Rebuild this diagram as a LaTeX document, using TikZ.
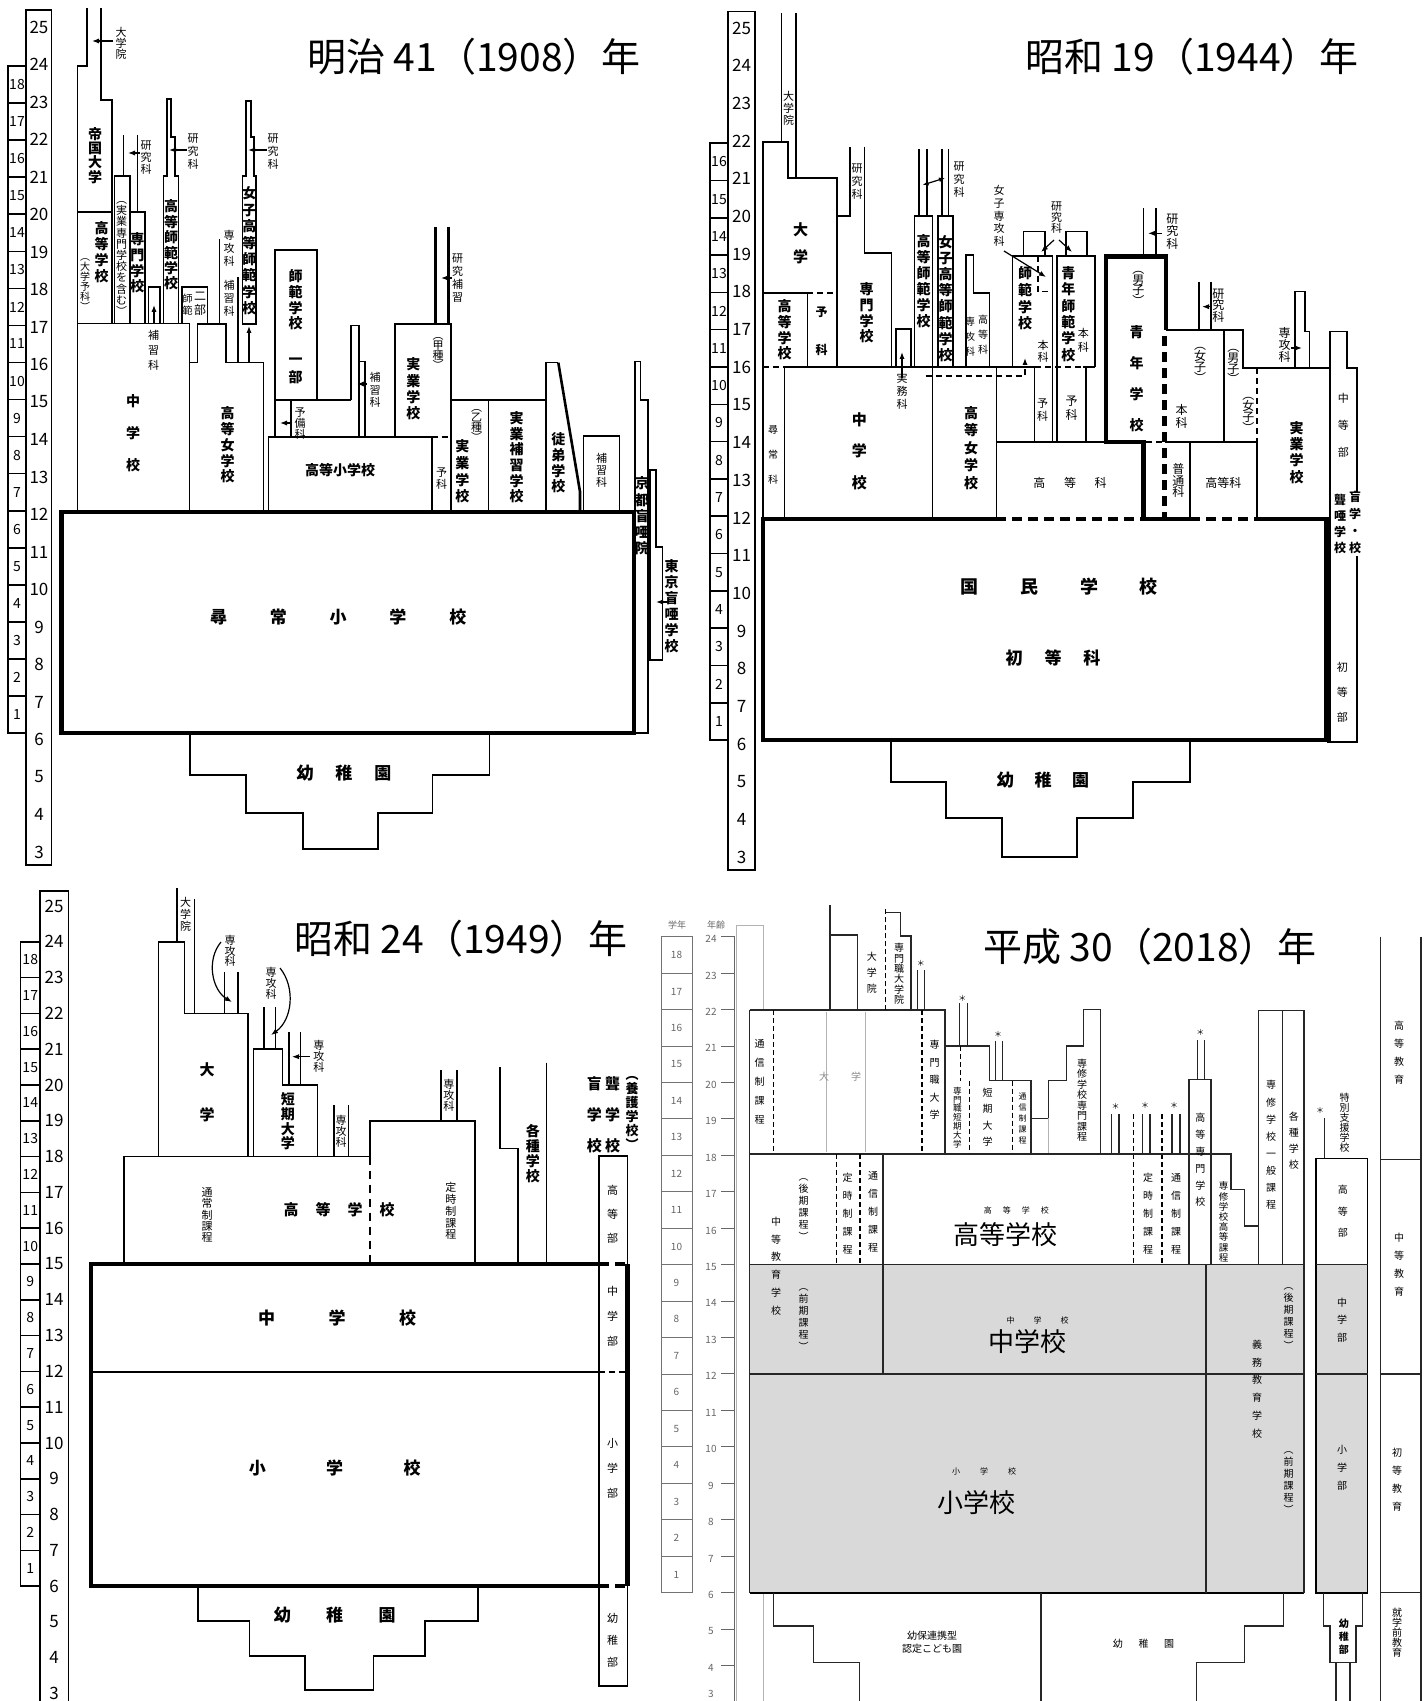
\documentclass[tikz,border=0pt]{standalone}
\usepackage{fontspec}
\setmainfont{Noto Sans CJK JP}
\usetikzlibrary{arrows.meta}
\newdimen\Hsw
\def\VtEnd{\VtEnd}
\def\VtLoop#1{\ifx#1\VtEnd\else\hbox to 1.1em{\hss#1\hss}\expandafter\VtLoop\fi}
\newcommand\Vt[2]{\vbox{\baselineskip=#1\relax\lineskiplimit=-\maxdimen\lineskip=0pt\VtLoop#2\VtEnd}}
\def\HsLoop#1{\ifx#1\VtEnd\else\hbox to\Hsw{\hss#1\hss}\expandafter\HsLoop\fi}
\newcommand\Hs[2]{\Hsw=#1\relax\hbox{\HsLoop#2\VtEnd}}
\newcommand\fsz[1]{\fontsize{#1}{#1}\selectfont}
\newcommand\bt{\bfseries\fsz{7pt}}
\begin{document}
\begin{tikzpicture}[x=0.5pt,y=-0.5pt,
 ln/.style={line width=0.8pt,line join=miter},
 thk/.style={line width=2.2pt,line join=miter},
 dsh/.style={line width=2.2pt,dash pattern=on 5pt off 3pt},
 dshn/.style={line width=0.8pt,dash pattern=on 3pt off 2pt},
 arr/.style={-{Latex[length=3.5pt,width=2.6pt]},line width=0.6pt},
 lb/.style={inner sep=0pt,outer sep=0pt},
 num/.style={inner sep=0pt,font=\fsz{8.5pt}},
 gnum/.style={inner sep=0pt,font=\fsz{7pt}},
 ttl/.style={inner sep=0pt,outer sep=0pt,font=\fsz{19.5pt}},
 l4/.style={line width=0.55pt,draw=black!85},
 d4/.style={line width=0.55pt,dash pattern=on 2.5pt off 1.5pt},
 g4/.style={inner sep=0pt,font=\fsz{5pt},text=black!60},
]
\useasboundingbox (0,0) rectangle (1428,1701);
\fill[white] (0,0) rectangle (1428,1701);

%================ PANEL 1 : Meiji 41 ================
\foreach \g in {1,...,18}{\draw[ln] (8,{733-(\g-1)*37.05}) rectangle (26,{733-\g*37.05});
 \node[gnum] (ga\g) at (17,{733-(\g-0.5)*37.05}) {\g};}
\draw[ln] (26,10) rectangle (51.5,865);
\foreach \a in {3,...,25}{\node[num] (aa\a) at (39,{27+(25-\a)*37.5}) {\a};}
\node[ttl] (title1) at (474,57) {明治 41（1908）年};

\draw[thk] (61.5,512) rectangle (634,733);
\draw[ln] (190,733) -- (190,775) -- (246,775) -- (246,812.7) -- (303,812.7) -- (303,849) -- (378,849) -- (378,812.7) -- (432.6,812.7) -- (432.6,775) -- (489.5,775) -- (489.5,733);
\draw[ln] (77.3,512) -- (77.3,66) -- (86.7,66) -- (86.7,8);
\draw[ln] (100.7,8) -- (100.7,100) -- (111.7,100) -- (111.7,323.5);
\draw[ln] (77.3,212) -- (111.7,212);
\draw[ln] (77.3,323.5) -- (189.3,323.5) -- (189.3,512);
\draw[ln] (189.3,362.7) -- (197.3,362.7) -- (197.3,324) -- (226,324) -- (226,362.7) -- (263.3,362.7) -- (263.3,512);
\draw[ln] (114.3,323.5) -- (114.3,176) -- (130,176) -- (130,323.5);
\draw[ln] (130,212) -- (145,212) -- (145,323.5);
\draw[ln] (123.3,135) -- (123.3,176);
\draw[ln] (137.3,135) -- (137.3,212);
\draw[ln] (148.3,323.5) -- (148.3,287) -- (160,287) -- (160,323.5);
\draw[arr] (154,323) -- (154,305);
\draw[ln] (163.3,323.5) -- (163.3,176) -- (166.7,176) -- (166.7,99) -- (171,99) -- (171,137) -- (175,137) -- (175,176) -- (178.3,176) -- (178.3,323.5);
\draw[ln] (181.7,324) -- (181.7,287.3) -- (207.3,287.3) -- (207.3,324);
\draw[ln] (219.3,239) -- (219.3,324);
\draw[ln] (237.7,277) -- (237.7,362.7);
\draw[ln] (242.3,324) -- (242.3,176) -- (245.7,176) -- (245.7,101) -- (250.7,101) -- (250.7,137) -- (254,137) -- (254,176) -- (256,176) -- (256,324) -- cycle;
\draw[arr] (249,362.7) -- (249,326);
\draw[ln] (275,250) rectangle (316.7,400);
\draw[ln] (275,400) -- (350.7,400);
\draw[ln] (275,400) -- (275,436.7);
\draw[ln] (291,400) -- (291,436.7);
\draw[ln] (350.7,400) -- (350.7,325.7) -- (359,325.7) -- (359,436.7);
\draw[ln] (359,361.7) -- (365,361.7) -- (365,436.7);
\draw[ln] (268.3,512) -- (268.3,436.7) -- (431.7,436.7) -- (431.7,512);
\draw[dshn] (431.7,436.7) -- (451,436.7);
\draw[ln] (395,436.7) -- (395,324) -- (451,324) -- (451,512);
\draw[line width=1.3pt] (435.7,226.7) -- (435.7,324);
\draw[line width=1.3pt] (448.3,226.7) -- (448.3,324);
\draw[ln] (451,400) -- (546,400);
\draw[ln] (488.3,400) -- (488.3,512);
\draw[ln] (546,512) -- (546,362.7) -- (558.3,362.7);
\draw[line width=1.3pt] (558.3,362.7) -- (580,491.7) -- (580,512);
\draw[ln] (583.3,512) -- (583.3,436) -- (619.3,436) -- (619.3,512);
\draw[ln] (634,733) -- (648,733) -- (648,400) -- (640.5,400) -- (640.5,361.7) -- (635,361.7) -- (635,512);
\draw[ln] (650,660) -- (650,470) -- (656,470) -- (656,547) -- (662.6,547) -- (662.6,660) -- cycle;
\draw[arr] (113,41) -- (92,41);
\draw[arr] (140,153) -- (128,153);
\draw[arr] (186.7,150) -- (169,150);
\draw[arr] (266.7,150) -- (248,150);
\draw[arr] (451.7,278) -- (441,278);
\draw[arr] (291,423) -- (280,423);
\draw[arr] (367,384) -- (357,384);
\draw[arr] (669,602) -- (656,602);

\node[lb] (p1a) at (95,155.5) {\bt\Vt{7.1pt}{帝国大学}};
\node[lb] (p1b) at (101.7,252.5) {\bt\Vt{8pt}{高等学校}};
\node[lb] (p1c) at (85,285) {\fsz{5pt}\Vt{5pt}{︵大学予科︶}};
\node[lb] (p1d) at (121.7,258.5) {\fsz{5.5pt}\Vt{5.6pt}{︵実業専門学校を含む︶}};
\node[lb] (p1e) at (137.3,263) {\bt\Vt{7.8pt}{専門学校}};
\node[lb] (p1f) at (146,157.5) {\fsz{5.5pt}\Vt{6pt}{研究科}};
\node[lb] (p1g) at (121,43.5) {\fsz{5.5pt}\Vt{5.5pt}{大学院}};
\node[lb] (p1h) at (171,245) {\bt\Vt{7.7pt}{高等師範学校}};
\node[lb] (p1i) at (193,151.5) {\fsz{5.5pt}\Vt{6.5pt}{研究科}};
\node[lb] (p1j) at (187.7,305) {\fsz{5pt}\Vt{6pt}{師範}};
\node[lb] (p1k) at (200,303.5) {\fsz{6pt}\Vt{7pt}{二部}};
\node[lb] (p1l) at (229,248.5) {\fsz{5.5pt}\Vt{6.5pt}{専攻科}};
\node[lb] (p1m) at (229,298.5) {\fsz{5.5pt}\Vt{6.5pt}{補習科}};
\node[lb] (p1n) at (249.3,251) {\bt\Vt{8.2pt}{女子高等師範学校}};
\node[lb] (p1o) at (273,151.5) {\fsz{5.5pt}\Vt{6.5pt}{研究科}};
\node[lb] (p1p) at (153.5,350) {\fsz{5.5pt}\Vt{7.5pt}{補習科}};
\node[lb] (p1q) at (133,433) {\bt\Vt{16pt}{中学校}};
\node[lb] (p1r) at (227.7,445) {\bt\Vt{7.9pt}{高等女学校}};
\node[lb] (p1s) at (295.7,300) {\bt\Vt{7.8pt}{師範学校}};
\node[lb] (p1t) at (295.7,371) {\bt\Vt{9pt}{一部}};
\node[lb] (p1u) at (300,423.5) {\fsz{5.5pt}\Vt{5.5pt}{予備科}};
\node[lb] (p1v) at (375,390) {\fsz{5.5pt}\Vt{6.25pt}{補習科}};
\node[lb] (p1w) at (340,470) {\bfseries\fsz{7pt}高等小学校};
\node[lb] (p1x) at (457.7,278) {\fsz{5.5pt}\Vt{6.5pt}{研究補習}};
\node[lb] (p1y) at (438,353.5) {\fsz{5.5pt}\Vt{5pt}{︵甲種︶}};
\node[lb] (p1z) at (413.3,389) {\bt\Vt{8.2pt}{実業学校}};
\node[lb] (p1aa) at (441.7,478.5) {\fsz{5.5pt}\Vt{6pt}{予科}};
\node[lb] (p1ab) at (476.7,425) {\fsz{5.5pt}\Vt{5pt}{︵乙種︶}};
\node[lb] (p1ac) at (462.3,471.5) {\bt\Vt{8.3pt}{実業学校}};
\node[lb] (p1ad) at (516.7,457.5) {\bt\Vt{7.8pt}{実業補習学校}};
\node[lb] (p1ae) at (558.3,463) {\bt\Vt{7.8pt}{徒弟学校}};
\node[lb] (p1af) at (601.7,470.5) {\fsz{5.5pt}\Vt{6pt}{補習科}};
\node[lb] (p1ag) at (642,516) {\bt\Vt{8.1pt}{京都盲唖院}};
\node[lb] (p1ah) at (671.7,606.5) {\bt\Vt{8pt}{東京盲唖学校}};
\node[lb] (p1ai) at (338.2,617) {\bfseries\fsz{8.5pt}\Hs{29.9pt}{尋常小学校}};
\node[lb] (p1aj) at (344,773) {\bfseries\fsz{8.5pt}\Hs{19.4pt}{幼稚園}};

%================ PANEL 2 : Showa 19 ================
\foreach \g in {1,...,16}{\draw[ln] (710,{740-(\g-1)*37.3}) rectangle (728,{740-\g*37.3});
 \node[gnum] (gb\g) at (719,{740-(\g-0.5)*37.3}) {\g};}
\draw[ln] (728,11.7) rectangle (755,870);
\foreach \a in {3,...,25}{\node[num] (ab\a) at (741.5,{28+(25-\a)*37.7}) {\a};}
\node[ttl] (title2) at (1192,57) {昭和 19（1944）年};

\draw[thk] (996,519) -- (762.7,519) -- (762.7,740) -- (1326.5,740) -- (1326.5,519) -- (1256.7,519);
\draw[dsh] (996,519) -- (1143.3,519);
\draw[thk] (1143.3,519) -- (1190,519);
\draw[dsh] (1190,519) -- (1256.7,519);
\draw[ln] (890.7,740) -- (890.7,782) -- (946,782) -- (946,818) -- (1002,818) -- (1002,857) -- (1077,857) -- (1077,818) -- (1133,818) -- (1133,782) -- (1190,782) -- (1190,740);
\draw[ln] (762.7,519) -- (762.7,142) -- (788,142) -- (788,178.3) -- (837,178.3) -- (837,367);
\draw[ln] (781.4,142) -- (781.4,13);
\draw[ln] (796,178.3) -- (796,13);
\draw[ln] (762.7,293.3) -- (807.4,293.3);
\draw[dshn] (807.4,293.3) -- (837,293.3);
\draw[ln] (807.4,293.3) -- (807.4,367);
\draw[dshn] (762.7,367) -- (784.6,367);
\draw[ln] (784.6,367) -- (1035,367);
\draw[dshn] (1035,367) -- (1083,367);
\draw[ln] (1083,367) -- (1095,367);
\draw[ln] (784.6,367) -- (784.6,519);
\draw[ln] (932.6,367) -- (932.6,519);
\draw[ln] (996.3,367) -- (996.3,519);
\draw[arr,dash pattern=on 3pt off 2pt] (925.7,376) -- (1025,376) -- (1025,358);
\draw[ln] (837,216) -- (849.7,216) -- (849.7,146.7);
\draw[ln] (864.3,146.7) -- (864.3,253.3) -- (891.6,253.3) -- (891.6,367);
\draw[ln] (896,367) -- (896,329.3) -- (911,329.3) -- (911,367);
\draw[arr] (902,378) -- (902,352);
\draw[ln] (914.4,367) -- (914.4,216) -- (932.6,216) -- (932.6,367);
\draw[ln] (919,149) -- (919,216);
\draw[ln] (926.7,149) -- (926.7,216);
\draw[ln] (938,367) -- (938,216) -- (953,216) -- (953,367);
\draw[ln] (941.7,149) -- (941.7,216);
\draw[ln] (948.5,149) -- (948.5,216);
\draw[{Latex[length=3pt,width=2.4pt]}-{Latex[length=3pt,width=2.4pt]},line width=0.6pt] (922.6,185) -- (945,178);
\draw[ln] (965.8,367) -- (965.8,255) -- (973.6,255) -- (973.6,293.3) -- (989.5,293.3) -- (989.5,367);
\draw[ln] (1012.3,367) -- (1012.3,256) -- (1052.3,256) -- (1052.3,441.7);
\draw[dshn] (1037.7,256) -- (1037.7,291.7) -- (1052.3,291.7);
\draw[ln] (1023.3,256) -- (1023.3,231.7) -- (1045,231.7) -- (1045,256);
\draw[ln] (1065.7,256) -- (1065.7,231.7) -- (1086.7,231.7) -- (1086.7,256);
\draw[arr] (1054,240) -- (1041,252);
\draw[arr] (1059,240) -- (1072,252);
\draw[arr] (1004,251) -- (1046,277);
\draw[ln] (1056.7,441.7) -- (1056.7,256) -- (1095,256) -- (1095,367);
\draw[ln] (1086,367) -- (1086,441.7);
\draw[ln] (1034.3,367) -- (1034.3,441.7);
\draw[ln] (996.3,441.7) -- (1106,441.7);
\draw[thk] (1143.3,519) -- (1143.3,441.7) -- (1106,441.7) -- (1106,256.7) -- (1165.7,256.7) -- (1165.7,330);
\draw[dsh] (1164.5,336) -- (1164.5,519);
\draw[ln] (1143.3,256.7) -- (1143.3,208.3);
\draw[ln] (1155.7,256.7) -- (1155.7,208.3);
\draw[arr] (1162,233.3) -- (1148,233.3);
\draw[dshn] (1146,441.7) -- (1163,441.7);
\draw[ln] (1165,441.7) -- (1256.7,441.7);
\draw[ln] (1190,441.7) -- (1190,519);
\draw[ln] (1256.7,441.7) -- (1256.7,519);
\draw[ln] (1165.7,330) -- (1242.7,330) -- (1242.7,368.3) -- (1330,368.3);
\draw[ln] (1224,330) -- (1224,441.7);
\draw[ln] (1199,330) -- (1199,281.7);
\draw[ln] (1211,330) -- (1211,281.7);
\draw[arr] (1212,306.7) -- (1202,306.7);
\draw[dshn] (1256.7,368.3) -- (1256.7,441.7);
\draw[ln] (1295,368.3) -- (1295,291.7) -- (1305,291.7) -- (1305,331.7) -- (1309.3,331.7) -- (1309.3,368.3);
\draw[arr] (1291,348) -- (1302,348);
\draw[ln] (1330,741.7) -- (1330,331.7) -- (1346.7,331.7) -- (1346.7,368.3) -- (1357,368.3) -- (1357,492);
\draw[ln] (1357,556) -- (1357,741.7) -- (1326.5,741.7);

\node[lb] (p2a) at (1059,587) {\bfseries\fsz{9pt}\Hs{30pt}{国民学校}};
\node[lb] (p2b) at (1053,658) {\bfseries\fsz{8.5pt}\Hs{19.4pt}{初等科}};
\node[lb] (p2c) at (1043,780) {\bfseries\fsz{8.5pt}\Hs{18.8pt}{幼稚園}};
\node[lb] (p2d) at (773,455) {\fsz{5pt}\Vt{12.5pt}{尋常科}};
\node[lb] (p2e) at (784.6,330) {\bt\Vt{7.8pt}{高等学校}};
\node[lb] (p2f) at (821.5,331) {\bfseries\fsz{6pt}\Vt{19pt}{予科}};
\node[lb] (p2g) at (800.5,243) {\bfseries\fsz{7.5pt}\Vt{13.5pt}{大学}};
\node[lb] (p2h) at (788.5,108.5) {\fsz{5.5pt}\Vt{6.1pt}{大学院}};
\node[lb] (p2i) at (866.6,313) {\bt\Vt{7.8pt}{専門学校}};
\node[lb] (p2j) at (857.2,181.5) {\fsz{5.5pt}\Vt{6.5pt}{研究科}};
\node[lb] (p2k) at (902,391.5) {\fsz{5.5pt}\Vt{6.5pt}{実務科}};
\node[lb] (p2l) at (923.5,281.5) {\bt\Vt{8pt}{高等師範学校}};
\node[lb] (p2m) at (945.5,298.5) {\bt\Vt{8.1pt}{女子高等師範学校}};
\node[lb] (p2n) at (959,180) {\fsz{5.5pt}\Vt{6.5pt}{研究科}};
\node[lb] (p2o) at (970,336.7) {\fsz{5pt}\Vt{7.5pt}{専攻科}};
\node[lb] (p2p) at (983,335) {\fsz{5pt}\Vt{7.5pt}{高等科}};
\node[lb] (p2q) at (859.3,451) {\bfseries\fsz{7.5pt}\Vt{15.75pt}{中学校}};
\node[lb] (p2r) at (971,448) {\bt\Vt{8.75pt}{高等女学校}};
\node[lb] (p2s) at (999,216) {\fsz{5.5pt}\Vt{6.4pt}{女子専攻科}};
\node[lb] (p2t) at (1056.7,218) {\fsz{5.5pt}\Vt{5.5pt}{研究科}};
\node[lb] (p2u) at (1025,298.5) {\bt\Vt{8.3pt}{師範学校}};
\node[lb] (p2v) at (1043,351.5) {\fsz{5.5pt}\Vt{6pt}{本科}};
\node[lb] (p2w) at (1068.3,314) {\bt\Vt{8.2pt}{青年師範学校}};
\node[lb] (p2x) at (1083.3,340) {\fsz{5.5pt}\Vt{7pt}{本科}};
\node[lb] (p2y) at (1042.7,410) {\fsz{5.5pt}\Vt{6.5pt}{予科}};
\node[lb] (p2z) at (1071.7,408) {\fsz{6pt}\Vt{7pt}{予科}};
\node[lb] (p2aa) at (1070,483) {\fsz{6pt}\Hs{15.35pt}{高等科}};
\node[lb] (p2ab) at (1172.3,231.5) {\fsz{6pt}\Vt{6.3pt}{研究科}};
\node[lb] (p2ac) at (1138.3,288.3) {\fsz{6pt}\Vt{5.4pt}{︵男子︶}};
\node[lb] (p2ad) at (1136.7,378.4) {\bt\Vt{15.5pt}{青年学校}};
\node[lb] (p2ae) at (1178.3,480.5) {\fsz{6pt}\Vt{5.8pt}{普通科}};
\node[lb] (p2af) at (1223.3,483.3) {\fsz{6pt}高等科};
\node[lb] (p2ag) at (1200,365) {\fsz{6pt}\Vt{5.4pt}{︵女子︶}};
\node[lb] (p2ah) at (1181.7,416.5) {\fsz{6pt}\Vt{6.5pt}{本科}};
\node[lb] (p2ai) at (1218.3,305.5) {\fsz{6pt}\Vt{5.8pt}{研究科}};
\node[lb] (p2aj) at (1233.3,366.5) {\fsz{6pt}\Vt{5.4pt}{︵男子︶}};
\node[lb] (p2ak) at (1248.3,415) {\fsz{6pt}\Vt{5.4pt}{︵女子︶}};
\node[lb] (p2al) at (1296.7,452.5) {\bt\Vt{8.2pt}{実業学校}};
\node[lb] (p2am) at (1284.5,345) {\fsz{6pt}\Vt{6.2pt}{専攻科}};
\node[lb] (p2an) at (1343.3,425) {\fsz{5.5pt}\Vt{13.5pt}{中等部}};
\node[lb] (p2ao) at (1355,522.5) {\bfseries\fsz{6pt}\Vt{8.5pt}{盲学・校}};
\node[lb] (p2ap) at (1340,524) {\bfseries\fsz{6pt}\Vt{8pt}{聾唖学校}};
\node[lb] (p2aq) at (1342.4,692) {\fsz{5.5pt}\Vt{12.5pt}{初等部}};

%================ PANEL 3 : Showa 24 ================
\foreach \g in {1,...,18}{\draw[ln] (20.5,{1586.2-(\g-1)*35.8}) rectangle (40,{1586.2-\g*35.8});
 \node[gnum] (gc\g) at (30.25,{1586.2-(\g-0.5)*35.8}) {\g};}
\draw[ln] (40,1701) -- (40,890.7) -- (68.3,890.7) -- (68.3,1701);
\foreach \a in {3,...,25}{\node[num] (ac\a) at (54,{906+(25-\a)*35.8}) {\a};}
\node[ttl] (title3) at (461,939) {昭和 24（1949）年};

\draw[thk] (598.8,1264) -- (91,1264) -- (91,1586.2) -- (598.8,1586.2);
\draw[dsh] (598.8,1264) -- (627.5,1264);
\draw[dsh] (598.8,1586.2) -- (627.5,1586.2);
\draw[thk] (627.5,1264) -- (627.5,1586.2);
\draw[line width=1.1pt] (91,1372) -- (598.8,1372);
\draw[dshn] (598.8,1372) -- (627.5,1372);
\draw[ln] (598.8,1156) -- (598.8,1686) -- (627.5,1686) -- (627.5,1156) -- cycle;
\draw[ln] (198,1586.2) -- (198,1620.7) -- (249.5,1620.7) -- (249.5,1656) -- (305,1656) -- (305,1690) -- (373.4,1690) -- (373.4,1656) -- (425,1656) -- (425,1620.7) -- (478,1620.7) -- (478,1586.2);
\draw[ln] (123.9,1264) -- (123.9,1156.6) -- (369.8,1156.6) -- (369.8,1120.8) -- (475,1120.8) -- (475,1264);
\draw[line width=1.1pt,dash pattern=on 4pt off 3pt] (369.8,1156.6) -- (369.8,1264);
\draw[ln] (158.5,1156.6) -- (158.5,941.8) -- (184.4,941.8) -- (184.4,1013.4) -- (248.2,1013.4) -- (248.2,1156.6);
\draw[ln] (176.7,941.8) -- (176.7,888.3);
\draw[ln] (194.4,1013.4) -- (194.4,899.3);
\draw[ln] (224.5,1013.4) -- (224.5,971.7);
\draw[ln] (237.7,1013.4) -- (237.7,971.7);
\draw[arr] (221,942) .. controls (206,960) and (212,990) .. (232,1002);
\draw[ln] (253.6,1156.6) -- (253.6,1049.2) -- (282.3,1049.2) -- (282.3,1085) -- (317.4,1085) -- (317.4,1156.6);
\draw[ln] (264,1049.2) -- (264,1006.7);
\draw[ln] (275.5,1049.2) -- (275.5,1006.7);
\draw[arr] (280,968) .. controls (296,988) and (292,1020) .. (271,1035);
\draw[ln] (289.2,1085) -- (289.2,1031.7);
\draw[ln] (300.5,1085) -- (300.5,1031.7);
\draw[arr] (309.7,1056.7) -- (292,1056.7);
\draw[ln] (333.8,1156.6) -- (333.8,1105);
\draw[ln] (348.4,1156.6) -- (348.4,1105);
\draw[ln] (440.8,1120.8) -- (440.8,1070);
\draw[ln] (456.8,1120.8) -- (456.8,1070);
\draw[ln] (500,1066.7) -- (500,1148.3) -- (518.2,1148.3) -- (518.2,1264);
\draw[ln] (546.4,1062.7) -- (546.4,1264);

\node[lb] (p3a) at (337,1318) {\bfseries\fsz{8.5pt}\Hs{35.25pt}{中学校}};
\node[lb] (p3b) at (334.7,1468) {\bfseries\fsz{8.5pt}\Hs{38.7pt}{小学校}};
\node[lb] (p3c) at (334.7,1615) {\bfseries\fsz{8.5pt}\Hs{26.2pt}{幼稚園}};
\node[lb] (p3d) at (339.2,1210) {\bfseries\fsz{7.5pt}\Hs{16pt}{高等学校}};
\node[lb] (p3e) at (207,1215) {\fsz{5.5pt}\Vt{5.6pt}{通常制課程}};
\node[lb] (p3f) at (450.8,1211) {\fsz{5.5pt}\Vt{5.9pt}{定時制課程}};
\node[lb] (p3g) at (207,1092.5) {\bfseries\fsz{7.5pt}\Vt{22.5pt}{大学}};
\node[lb] (p3h) at (185.5,914) {\fsz{5.5pt}\Vt{6pt}{大学院}};
\node[lb] (p3i) at (230,951) {\fsz{5.5pt}\Vt{5.2pt}{専攻科}};
\node[lb] (p3j) at (271,983.5) {\fsz{5.5pt}\Vt{5.5pt}{専攻科}};
\node[lb] (p3k) at (318.8,1056.5) {\fsz{5.5pt}\Vt{5.5pt}{専攻科}};
\node[lb] (p3l) at (287.8,1121.5) {\bt\Vt{7.3pt}{短期大学}};
\node[lb] (p3m) at (341,1131.5) {\fsz{5.5pt}\Vt{5.5pt}{専攻科}};
\node[lb] (p3n) at (448.8,1095) {\fsz{5.5pt}\Vt{5.5pt}{専攻科}};
\node[lb] (p3o) at (532.8,1154) {\bt\Vt{7.5pt}{各種学校}};
\node[lb] (p3p) at (594.3,1114.5) {\bfseries\fsz{7.5pt}\Vt{15.5pt}{盲学校}};
\node[lb] (p3q) at (612.5,1114.5) {\bfseries\fsz{7.5pt}\Vt{15.5pt}{聾学校}};
\node[lb] (p3r) at (632,1112.5) {\bfseries\fsz{6.5pt}\Vt{7pt}{︵養護学校︶}};
\node[lb] (p3s) at (612.5,1214.7) {\fsz{5.5pt}\Vt{12pt}{高等部}};
\node[lb] (p3t) at (612.5,1316.7) {\fsz{5.5pt}\Vt{12.5pt}{中学部}};
\node[lb] (p3u) at (612.5,1468) {\fsz{5.5pt}\Vt{12.5pt}{小学部}};
\node[lb] (p3v) at (612.5,1640) {\fsz{5.5pt}\Vt{11pt}{幼稚部}};

%================ PANEL 4 : Heisei 30 ================
\node[g4,font=\fsz{4.5pt}] (h4a) at (677,925) {学年};
\node[g4,font=\fsz{4.5pt}] (h4b) at (716,925) {年齢};
\foreach \g in {1,...,18}{\draw[black!55,line width=0.5pt] (661,{1592.7-(\g-1)*36.44}) rectangle (692,{1592.7-\g*36.44});
 \node[g4] (gd\g) at (676.5,{1592.7-(\g-0.5)*36.44}) {\g};}
\draw[black!60,line width=0.5pt] (734.5,936.7) -- (734.5,1701);
\foreach \a in {4,...,24}{\draw[black!60,line width=0.5pt] (721,{936.7+(24-\a)*36.44}) -- (734.5,{936.7+(24-\a)*36.44});
 \node[g4] (ad\a) at (711,{939+(24-\a)*36.44}) {\a};}
\node[g4] (ad3) at (711,1694) {3};
\draw[black!30,line width=0.5pt] (736,1701) -- (736,925) -- (763,925) -- (763,1010);
\draw[black!30,line width=0.5pt] (763,1593) -- (763,1701);
\node[ttl] (title4) at (1150,947) {平成 30（2018）年};

\fill[black!15] (749.6,1264.7) rectangle (1304,1592.7);
\fill[black!15] (1316,1264.7) rectangle (1367.6,1592.7);
\draw[l4] (749.6,1010) -- (749.6,1592.7);
\draw[l4] (749.6,1264.7) -- (1304,1264.7);
\draw[line width=1pt] (749.6,1592.7) -- (1304,1592.7);
\draw[l4] (1304,1264.7) -- (1304,1592.7);
\draw[l4] (749.6,1374) -- (1304,1374);
\draw[l4] (883,1154) -- (883,1374);
\draw[l4] (1206,1264.7) -- (1206,1592.7);
\draw[l4] (749.6,1010) -- (945,1010) -- (945,1154);
\draw[d4] (773.7,1010) -- (773.7,1154);
\draw[d4] (922,1010) -- (922,1154);
\draw[black!30,line width=0.5pt] (826.6,1012) -- (826.6,1152);
\draw[black!30,line width=0.5pt] (865.9,1012) -- (865.9,1152);
\draw[l4] (830,1010) -- (830,905);
\draw[l4] (830,935) -- (857.5,935) -- (857.5,1010);
\draw[d4] (885.5,1010) -- (885.5,907.3);
\draw[l4] (885.5,912.7) -- (900.2,912.7) -- (900.2,936) -- (911,936) -- (911,1010);
\draw[l4] (917.4,1010) -- (917.4,970);
\draw[l4] (924.7,1010) -- (924.7,970);
\draw[l4] (945.5,1154) -- (945.5,1046) -- (989.4,1046) -- (989.4,1080.7) -- (1031,1080.7) -- (1031,1154);
\draw[d4] (960.3,1046) -- (960.3,1080.7);
\draw[d4] (969.8,1080.7) -- (969.8,1154);
\draw[d4] (1012.8,1080.7) -- (1012.8,1154);
\draw[l4] (959.8,1046) -- (959.8,1003.3);
\draw[l4] (967.6,1046) -- (967.6,1003.3);
\draw[l4] (995.5,1080.7) -- (995.5,1041);
\draw[l4] (1002.8,1080.7) -- (1002.8,1041);
\draw[l4] (1031,1118.3) -- (1048.7,1118.3) -- (1048.7,1080.7) -- (1066.5,1080.7) -- (1066.5,1046) -- (1083.6,1046) -- (1083.6,1009.3) -- (1100.7,1009.3) -- (1100.7,1154);
\draw[black!30,line width=0.5pt] (1048.7,1118.3) -- (1048.7,1154);
\draw[l4] (1111.5,1154) -- (1111.5,1114);
\draw[l4] (1119,1154) -- (1119,1114);
\draw[l4] (1142.5,1154) -- (1142.5,1114);
\draw[l4] (1150,1154) -- (1150,1114);
\draw[l4] (1172,1154) -- (1172,1114);
\draw[l4] (1180,1154) -- (1180,1114);
\draw[d4] (1133.7,1114) -- (1133.7,1264.7);
\draw[d4] (1162,1114) -- (1162,1264.7);
\draw[l4] (749.6,1154) -- (1231,1154) -- (1231,1189.3) -- (1244.8,1189.3) -- (1244.8,1226) -- (1258.8,1226);
\draw[d4] (836.4,1154) -- (836.4,1264.7);
\draw[d4] (860,1154) -- (860,1264.7);
\draw[l4] (1189,1264.7) -- (1189,1079.3) -- (1211,1079.3) -- (1211,1264.7);
\draw[l4] (1197.6,1079.3) -- (1197.6,1040);
\draw[l4] (1204.9,1079.3) -- (1204.9,1040);
\draw[l4] (1258.8,1264.7) -- (1258.8,1010.7) -- (1304,1010.7) -- (1304,1264.7);
\draw[l4] (1282.4,1010.7) -- (1282.4,1264.7);
\draw[line width=0.8pt] (1316,1158.3) rectangle (1367.6,1592.7);
\draw[l4] (1316,1264.7) -- (1367.6,1264.7);
\draw[l4] (1316,1374) -- (1367.6,1374);
\draw[l4] (1324.5,1158.3) -- (1324.5,1118);
\draw[l4] (1323.5,1592.7) -- (1323.5,1626) -- (1330,1626) -- (1330,1662.7) -- (1356,1662.7) -- (1356,1626) -- (1362.4,1626) -- (1362.4,1592.7);
\draw[l4] (1336,1662.7) -- (1336,1701);
\draw[l4] (1350,1662.7) -- (1350,1701);
\draw[l4] (1380.6,936.7) -- (1380.6,1701);
\draw[l4] (1421,936.7) -- (1421,1701);
\draw[l4] (1380.6,1159.3) -- (1421,1159.3);
\draw[l4] (1380.6,1374) -- (1421,1374);
\draw[l4] (1380.6,1592.7) -- (1421,1592.7);
\draw[l4] (773.7,1592.7) -- (773.7,1626) -- (813.3,1626) -- (813.3,1662.7) -- (859.4,1662.7) -- (859.4,1701);
\draw[l4] (1283.5,1592.7) -- (1283.5,1626) -- (1244.8,1626) -- (1244.8,1662.7) -- (1196.7,1662.7) -- (1196.7,1701);
\draw[l4] (1041,1592.7) -- (1041,1701);

\foreach \x/\y/\n in {920.8/963/s1,962.4/998/s2,998.2/1034/s3,1115.7/1106.7/s4,1145/1105/s5,1174.2/1105/s6,1200.4/1032.7/s7,1320/1110.7/s8}{\node[lb,font=\fsz{4pt}] (\n) at (\x,\y) {＊};}
\node[lb] (p4a) at (1037.5,1320) {\fsz{4pt}\Hs{13.5pt}{中学校}};
\node[lb] (p4b) at (1027.6,1342) {\fsz{13pt}中学校};
\node[lb] (p4c) at (984,1471.7) {\fsz{4pt}\Hs{14pt}{小学校}};
\node[lb] (p4d) at (976,1503) {\fsz{13pt}小学校};
\node[lb] (p4e) at (1016.4,1210.7) {\fsz{4pt}\Hs{9.5pt}{高等学校}};
\node[lb] (p4f) at (1005.6,1235) {\fsz{13pt}高等学校};
\node[lb] (p4g) at (759.5,1081.5) {\fsz{5pt}\Vt{9.5pt}{通信制課程}};
\node[lb,text=black!45] (p4h) at (840,1076.7) {\fsz{5pt}\Hs{16pt}{大学}};
\node[lb] (p4i) at (934.5,1080) {\fsz{5pt}\Vt{8.75pt}{専門職大学}};
\node[lb] (p4j) at (871.8,972.5) {\fsz{5pt}\Vt{8pt}{大学院}};
\node[lb] (p4k) at (899,974) {\fsz{5pt}\Vt{5.2pt}{専門職大学院}};
\node[lb] (p4l) at (957.5,1117.5) {\fsz{4.3pt}\Vt{4.4pt}{専門職短期大学}};
\node[lb] (p4m) at (987.5,1117.3) {\fsz{5pt}\Vt{8.1pt}{短期大学}};
\node[lb] (p4n) at (1022.6,1119) {\fsz{4pt}\Vt{5.5pt}{通信制課程}};
\node[lb] (p4o) at (1082.2,1100) {\fsz{5pt}\Vt{5.25pt}{専修学校専門課程}};
\node[lb] (p4p) at (803.6,1210) {\fsz{5pt}\Vt{6pt}{︵後期課程︶}};
\node[lb] (p4q) at (847.7,1214) {\fsz{5pt}\Vt{9pt}{定時制課程}};
\node[lb] (p4r) at (873,1212) {\fsz{5pt}\Vt{9pt}{通信制課程}};
\node[lb] (p4s) at (776,1266) {\fsz{5pt}\Vt{8.9pt}{中等教育学校}};
\node[lb] (p4t) at (803.6,1320) {\fsz{5pt}\Vt{6pt}{︵前期課程︶}};
\node[lb] (p4u) at (1148,1214) {\fsz{5pt}\Vt{9pt}{定時制課程}};
\node[lb] (p4v) at (1176,1214) {\fsz{5pt}\Vt{9pt}{通信制課程}};
\node[lb] (p4w) at (1200.4,1160) {\fsz{5pt}\Vt{8.4pt}{高等専門学校}};
\node[lb] (p4x) at (1223.7,1222) {\fsz{4.75pt}\Vt{5.1pt}{専修学校高等課程}};
\node[lb] (p4y) at (1271,1145) {\fsz{5pt}\Vt{8.55pt}{専修学校一般課程}};
\node[lb] (p4z) at (1293.8,1141) {\fsz{5pt}\Vt{8pt}{各種学校}};
\node[lb] (p4aa) at (1288.5,1319) {\fsz{5pt}\Vt{6pt}{︵後期課程︶}};
\node[lb] (p4ab) at (1257,1389) {\fsz{5pt}\Vt{8.85pt}{義務教育学校}};
\node[lb] (p4ac) at (1288.5,1483) {\fsz{5pt}\Vt{6pt}{︵前期課程︶}};
\node[lb] (p4ad) at (1344.6,1123) {\fsz{5pt}\Vt{5pt}{特別支援学校}};
\node[lb] (p4ae) at (1342.8,1211.5) {\fsz{5pt}\Vt{10.75pt}{高等部}};
\node[lb] (p4af) at (1342,1320) {\fsz{5pt}\Vt{8.75pt}{中学部}};
\node[lb] (p4ag) at (1342,1468) {\fsz{5pt}\Vt{9pt}{小学部}};
\node[lb] (p4ah) at (1343.8,1636.5) {\bfseries\fsz{5pt}\Vt{6.5pt}{幼稚部}};
\node[lb] (p4ai) at (1399,1053) {\fsz{5pt}\Vt{9pt}{高等教育}};
\node[lb] (p4aj) at (1399,1265) {\fsz{5pt}\Vt{9pt}{中等教育}};
\node[lb] (p4ak) at (1397,1480) {\fsz{5pt}\Vt{9pt}{初等教育}};
\node[lb] (p4al) at (1397,1633) {\fsz{5pt}\Vt{5pt}{就学前教育}};
\node[lb] (p4am) at (932,1636) {\fsz{5pt}幼保連携型};
\node[lb] (p4an) at (932,1648.3) {\fsz{5pt}認定こども園};
\node[lb] (p4ao) at (1143.5,1643.3) {\fsz{5pt}\Hs{12.8pt}{幼稚園}};
\end{tikzpicture}
\end{document}
